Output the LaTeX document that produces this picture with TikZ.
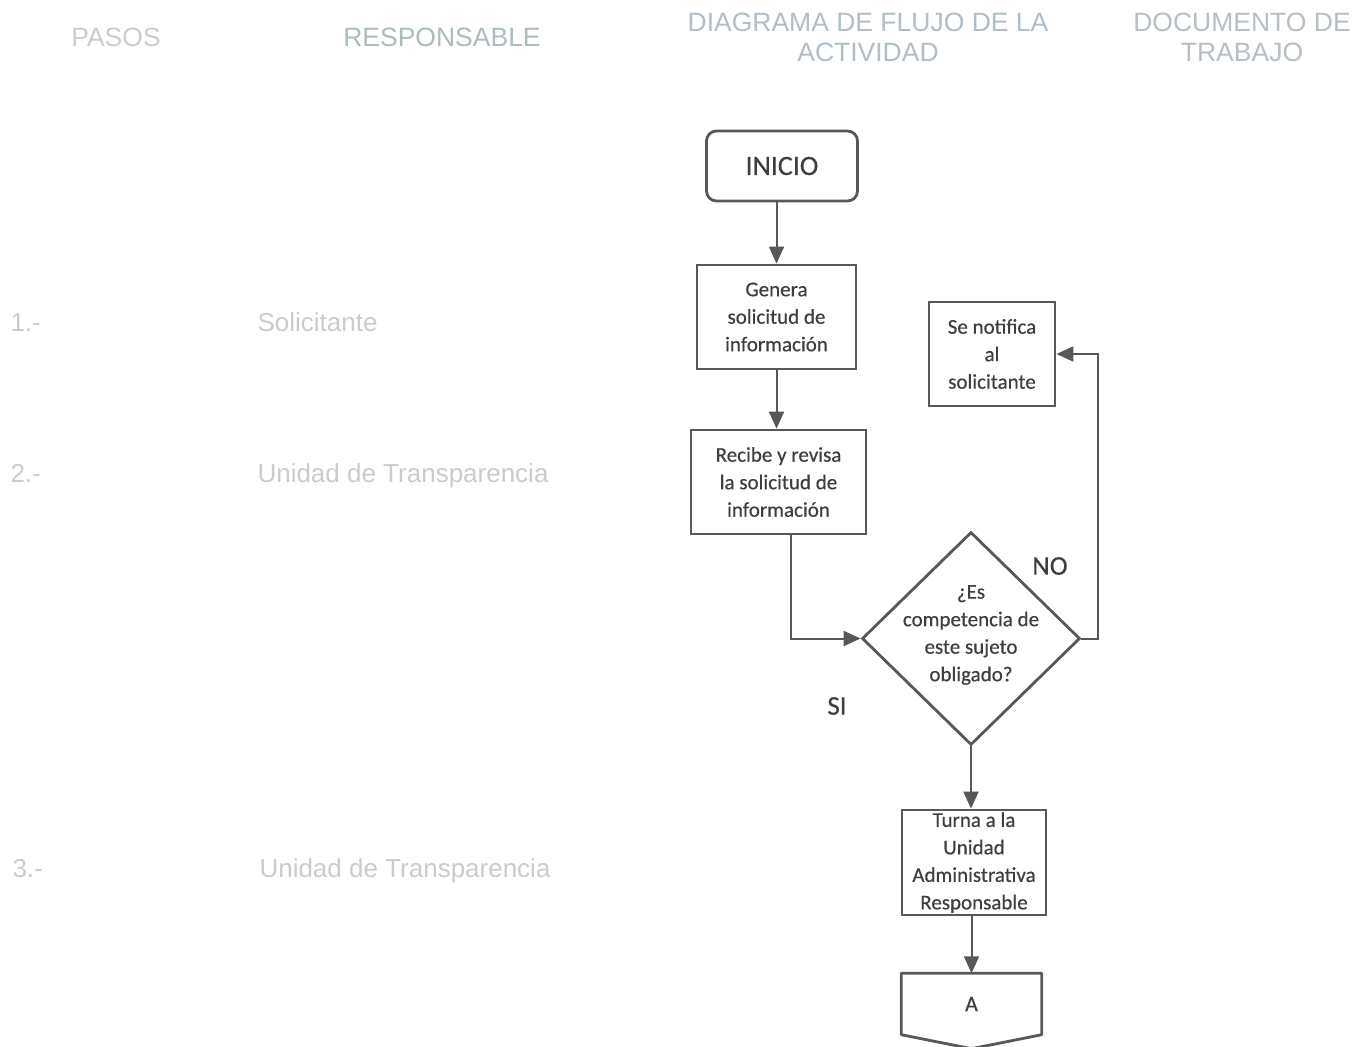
\documentclass[tikz,border=0pt]{standalone}
\usepackage{fontspec}
\setmainfont{Carlito}
\newfontfamily\cajaf[FakeBold=0.4]{Carlito}
\newfontfamily\arialf{Liberation Sans}
\usetikzlibrary{shapes.geometric,arrows.meta,positioning}

\definecolor{linea}{RGB}{88,88,88}
\definecolor{texto}{RGB}{62,62,62}
\definecolor{grispasos}{RGB}{200,205,205}
\definecolor{grisresp}{RGB}{170,188,188}
\definecolor{grisdiag}{RGB}{176,190,200}
\definecolor{grisdoc}{RGB}{182,192,196}
\definecolor{grisizq}{RGB}{202,204,204}

\tikzset{
  caja/.style={draw=linea, line width=2.8pt, inner sep=0pt, align=center, text=texto,
    font=\cajaf\fontsize{21}{27.5}\selectfont},
  flecha/.style={draw=linea, line width=2pt, -{Triangle[length=17pt,width=15pt]}},
  encab/.style={font=\arialf\fontsize{26.5}{30}\selectfont, align=center},
  paso/.style={font=\arialf\fontsize{26}{30}\selectfont, anchor=base west, text=grisizq},
  rotulo/.style={font=\cajaf\fontsize{27}{30}\selectfont, text=texto}
}

\begin{document}
\begin{tikzpicture}[x=1pt, y=-1pt]
\path[fill=white, use as bounding box] (0,0) rectangle (1363,1047);

% encabezados
\node[encab, text=grispasos] (hpasos) at (116,37) {PASOS};
\node[encab, text=grisresp] (hresp) at (442,37) {RESPONSABLE};
\node[encab, text=grisdiag] (hdiag) at (868,37) {DIAGRAMA DE FLUJO DE LA\\ACTIVIDAD};
\node[encab, text=grisdoc] (hdoc) at (1242,37) {DOCUMENTO DE\\TRABAJO};

% pasos y responsables
\node[paso] (n1) at (7,331) {1.-};
\node[paso] (r1) at (254,331) {Solicitante};
\node[paso] (n2) at (7,482) {2.-};
\node[paso] (r2) at (254,482) {Unidad de Transparencia};
\node[paso] (n3) at (9,877) {3.-};
\node[paso] (r3) at (256,877) {Unidad de Transparencia};

% diagrama
\node[caja, rounded corners=10pt, minimum width=151pt, minimum height=70pt,
  font=\cajaf\fontsize{28}{30}\selectfont] (inicio) at (782,166) {INICIO};
\node[caja, minimum width=159pt, minimum height=104pt] (genera) at (776.5,317) {Genera\\solicitud de\\información};
\node[caja, minimum width=175pt, minimum height=104pt] (recibe) at (778.5,482) {Recibe y revisa\\la solicitud de\\información};
\node[caja, minimum width=126pt, minimum height=104pt] (notifica) at (992,354) {Se notifica\\al\\solicitante};
\node[caja, diamond, minimum width=218pt, minimum height=213pt] (pregunta) at (971,638.5) {};
\node[caja, draw=none] (ptexto) at (971,635) {¿Es\\competencia de\\este sujeto\\obligado?};
\node[caja, minimum width=144pt, minimum height=105pt] (turna) at (974,862.5) {Turna a la\\Unidad\\Administrativa\\Responsable};
\node[inner sep=0pt, minimum width=140pt, minimum height=61pt, text=texto,
  font=\cajaf\fontsize{22}{24}\selectfont] (conA) at (971.5,1004) {A};
\coordinate (puntaA) at ([yshift=-14pt]conA.south);
\draw[linea, line width=2.8pt, line join=round] (conA.south west) -- (conA.north west) -- (conA.north east)
  -- (conA.south east) -- (puntaA) -- cycle;

\node[rotulo] (no) at (1050,566) {NO};
\node[rotulo] (si) at (837,706) {SI};

% flechas
\draw[flecha] (genera.north |- inicio.south) -- (genera.north);
\draw[flecha] (genera.south) -- (genera.south |- recibe.north);
\draw[flecha] ([xshift=12pt]recibe.south) |- (pregunta.west);
\draw[flecha] (pregunta.east) -- ++(17,0) |- (notifica.east);
\draw[flecha] (pregunta.south) -- (pregunta.south |- turna.north);
\draw[flecha] (conA.north |- turna.south) -- (conA.north);

\end{tikzpicture}
\end{document}
